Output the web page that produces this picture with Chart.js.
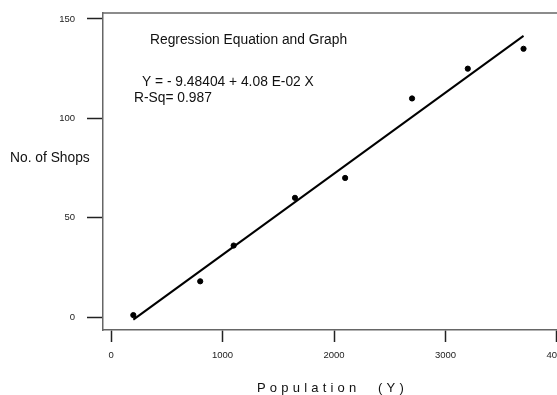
<!DOCTYPE html>
<html>
<head>
<meta charset="utf-8">
<script src="https://cdn.jsdelivr.net/npm/chart.js@4"></script>
<style>
  html, body { margin: 0; padding: 0; background: #fff; overflow: hidden; }
  #wrap { width: 575px; height: 395px; }
</style>
</head>
<body>
<div id="wrap"><canvas id="regChart"></canvas></div>
<script>
// observed points
const population = [200, 800, 1100, 1650, 2100, 2700, 3200, 3700];
const shops = [1, 18, 36, 60, 70, 110, 125, 135];
// fitted line ends (Y = -9.48404 + 0.0408 X)
const fitX = [200, 3700];
const fitY = [-1.3, 141.5];
const xTicks = [0, 1000, 2000, 3000, 4000];
const yTicks = [0, 50, 100, 150];

const font = 'Liberation Sans, Arial, sans-serif';

const textPlugin = {
    id: 'texts',
    afterDraw(chart) {
        const ctx = chart.ctx;
        const a = chart.chartArea;
        ctx.save();
        // top border of the box
        ctx.strokeStyle = '#666';
        ctx.lineWidth = 1.5;
        ctx.beginPath();
        ctx.moveTo(a.left, a.top);
        ctx.lineTo(a.right, a.top);
        ctx.stroke();

        ctx.fillStyle = '#111';
        ctx.textBaseline = 'alphabetic';
        ctx.textAlign = 'left';
        ctx.font = '13.8px ' + font;
        ctx.fillText('Regression Equation and Graph', 150, 43.5);
        ctx.fillText('Y = - 9.48404 + 4.08 E-02 X', 142, 86);
        ctx.fillText('R-Sq= 0.987', 134, 102);
        ctx.fillText('No. of Shops', 10, 161.5);

        ctx.font = '13px ' + font;
        ctx.letterSpacing = '4.2px';
        ctx.fillText('Population', 257, 391.5);
        ctx.fillText('(Y)', 378, 391.5);
        ctx.restore();
    }
};

new Chart(document.getElementById('regChart'), {
    type: 'scatter',
    data: {
        datasets: [{
            label: 'Fit',
            type: 'line',
            data: fitX.map((x, i) => ({ x: x, y: fitY[i] })),
            borderColor: '#000',
            borderWidth: 2,
            pointRadius: 0,
            fill: false
        }, {
            label: 'Shops',
            data: population.map((x, i) => ({ x: x, y: shops[i] })),
            backgroundColor: '#000',
            borderColor: '#000',
            pointRadius: 2.6,
            pointHoverRadius: 2.6
        }]
    },
    options: {
        responsive: true,
        maintainAspectRatio: false,
        animation: false,
        layout: { padding: { top: 13, right: 10, left: 0, bottom: 0 } },
        plugins: {
            legend: { display: false },
            tooltip: { enabled: false }
        },
        scales: {
            x: {
                type: 'linear',
                min: -72,
                max: 4072,
                afterBuildTicks: (scale) => { scale.ticks = xTicks.map(v => ({ value: v })); },
                afterFit: (scale) => { scale.height = 65; scale.paddingLeft = 0; scale.paddingRight = 0; },
                grid: {
                    drawOnChartArea: false,
                    drawTicks: true,
                    tickLength: 12,
                    tickColor: '#222',
                    tickWidth: 1.5
                },
                border: { display: true, color: '#666', width: 1.5 },
                ticks: {
                    color: '#222',
                    font: { family: font, size: 9.5 },
                    padding: 8,
                    maxRotation: 0,
                    autoSkip: false,
                    callback: (v) => String(v)
                }
            },
            y: {
                type: 'linear',
                min: -6.5,
                max: 153,
                afterBuildTicks: (scale) => { scale.ticks = yTicks.map(v => ({ value: v })); },
                afterFit: (scale) => { scale.width = 103; scale.paddingTop = 0; scale.paddingBottom = 0; },
                grid: {
                    drawOnChartArea: false,
                    drawTicks: true,
                    tickLength: 16,
                    tickColor: '#222',
                    tickWidth: 1.5
                },
                border: { display: true, color: '#666', width: 1.5 },
                ticks: {
                    color: '#222',
                    font: { family: font, size: 9.5 },
                    padding: 12,
                    autoSkip: false,
                    callback: (v) => String(v)
                }
            }
        }
    },
    plugins: [textPlugin]
});
</script>
</body>
</html>
